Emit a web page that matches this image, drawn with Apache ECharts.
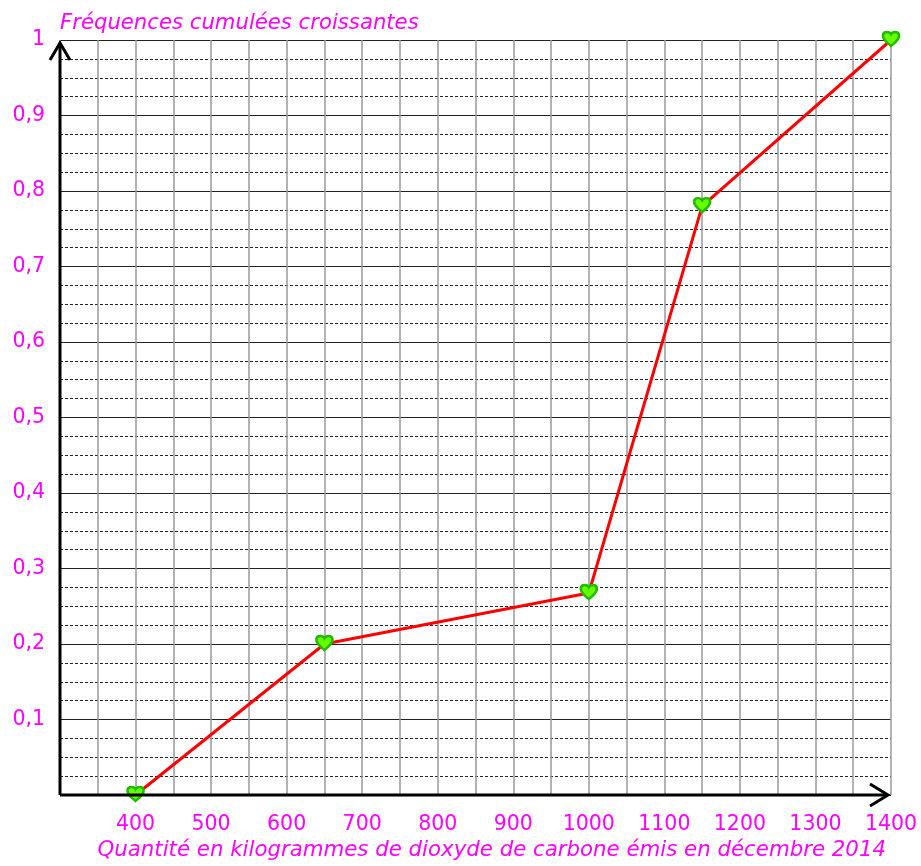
<!DOCTYPE html>
<html><head><meta charset="utf-8">
<script src="https://cdn.jsdelivr.net/npm/echarts@6/dist/echarts.min.js"></script>
<style>html,body{margin:0;padding:0;background:#fff}#c{width:921px;height:866px}</style>
</head><body><div id="c"></div>
<script>
var quantities = [400, 650, 1000, 1150, 1400];
var cumulFreq = [0, 0.2, 0.2675, 0.78, 1];
var yTitle = 'Fréquences cumulées croissantes';
var xTitle = 'Quantité en kilogrammes de dioxyde de carbone émis en décembre 2014';

var magenta = '#ff00ff';
var font = 'DejaVu Sans';
var heart = 'path://M10,19 C6,15 0,11 0,5 C0,2 2,0 5,0 C7,0 9,1 10,3 C11,1 13,0 15,0 C18,0 20,2 20,5 C20,11 14,15 10,19 Z';

var chart = echarts.init(document.getElementById('c'));
chart.setOption({
  animation: false,
  grid: {left: 60, right: 30, top: 40, bottom: 71},
  title: {
    text: xTitle, right: 30, bottom: 0,
    textStyle: {color: magenta, fontFamily: font, fontSize: 21.3, fontStyle: 'italic', fontWeight: 'normal'}
  },
  xAxis: {
    type: 'value', min: 300, max: 1400, interval: 50,
    axisLine: {show: false}, axisTick: {show: false},
    axisLabel: {
      margin: 19, color: magenta, fontFamily: font, fontSize: 20.5,
      formatter: function (v) { return (v % 100 === 0 && v > 300) ? String(v) : ''; }
    },
    splitLine: {show: true, lineStyle: {color: '#999', width: 1.5}}
  },
  yAxis: {
    type: 'value', min: 0, max: 1, interval: 0.1,
    name: yTitle, nameLocation: 'end', nameGap: 6,
    nameTextStyle: {align: 'left', color: magenta, fontFamily: font, fontSize: 21.2, fontStyle: 'italic', padding: [0,0,0,0]},
    axisLine: {show: false}, axisTick: {show: false},
    axisLabel: {
      margin: 15, color: magenta, fontFamily: font, fontSize: 20.5,
      formatter: function (v) { if (v === 0) return ''; var s = (Math.round(v*10)/10).toString(); return s.replace('.', ','); }
    },
    splitLine: {show: true, lineStyle: {color: '#222', width: 1.2}},
    minorTick: {show: false, splitNumber: 4},
    minorSplitLine: {show: true, lineStyle: {color: '#222', width: 1, type: [3, 2]}}
  },
  series: [{
    type: 'line',
    data: quantities.map(function (q, i) { return [q, cumulFreq[i]]; }),
    lineStyle: {color: '#ff0000', width: 3},
    symbol: heart, symbolSize: [16, 14], symbolOffset: [0, -1],
    itemStyle: {color: '#66ff00', borderColor: '#22bb00', borderWidth: 2.5},
    z: 5
  }]
});

var o = chart.convertToPixel({xAxisIndex: 0, yAxisIndex: 0}, [300, 0]);
var e = chart.convertToPixel({xAxisIndex: 0, yAxisIndex: 0}, [1400, 1]);
var xEnd = e[0] - 3, yEnd = e[1] + 3;
chart.setOption({
  graphic: [
    {type: 'polyline', z: 10, shape: {points: [[o[0], o[1]], [xEnd, o[1]]]}, style: {stroke: '#000', lineWidth: 3, fill: null}},
    {type: 'polyline', z: 10, shape: {points: [[o[0], o[1]], [o[0], yEnd]]}, style: {stroke: '#000', lineWidth: 3, fill: null}},
    {type: 'polyline', z: 10, shape: {points: [[xEnd - 18, o[1] - 11], [xEnd, o[1]], [xEnd - 18, o[1] + 11]]}, style: {stroke: '#000', lineWidth: 3, fill: null}},
    {type: 'polyline', z: 10, shape: {points: [[o[0] - 10, yEnd + 17], [o[0], yEnd], [o[0] + 10, yEnd + 17]]}, style: {stroke: '#000', lineWidth: 3, fill: null}}
  ]
});
</script></body></html>
